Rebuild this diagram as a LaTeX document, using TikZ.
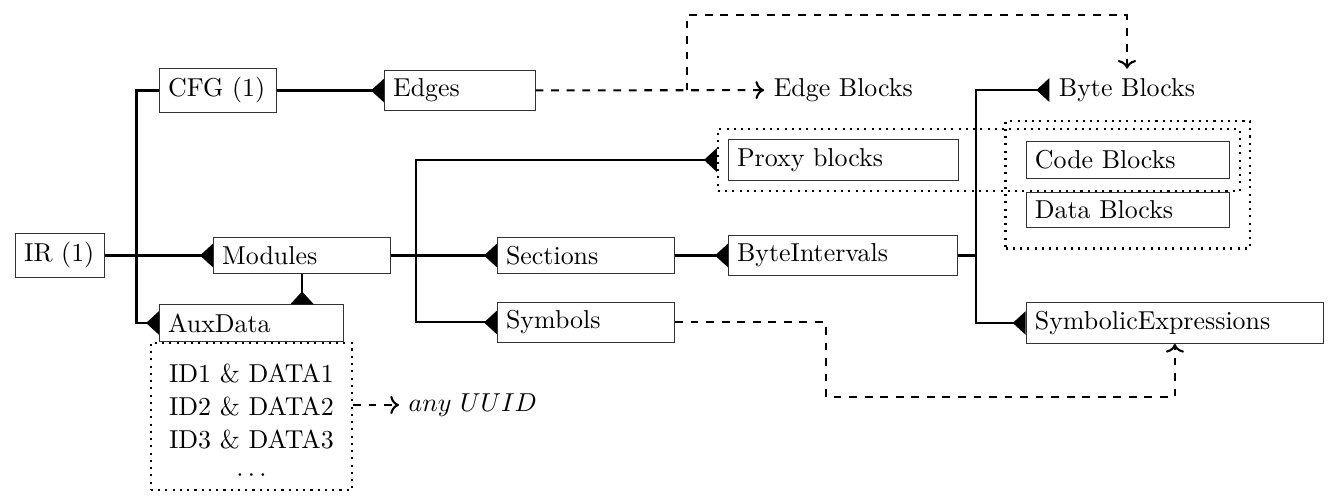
\documentclass[tikz,border=0pt]{standalone}
\usetikzlibrary{arrows.meta,positioning,fit}
\begin{document}
\begin{tikzpicture}[thick,
    box/.style = {draw=black!80, thin, anchor=west, align=left},
    grp/.style = {draw, dotted, thick},
    many/.style = {-{Triangle[reversed,length=5pt,width=9pt]}},
    ref/.style = {dashed, -{To}}]
  \useasboundingbox (0,0) rectangle (18.09,6.758);
  % classes
  \node[box, text width=0.97cm] (ir) at (0.204,3.291) {IR (1)};
  \node[box, text width=1.35cm] (cfg) at (2.158,5.530) {CFG (1)};
  \node[box, text width=1.81cm] (edges) at (5.211,5.530) {Edges};
  \node[box, text width=2.17cm] (mod) at (2.890,3.291) {Modules};
  \node[box, text width=2.26cm] (aux) at (2.158,2.375) {AuxData};
  \node[box, text width=2.17cm] (sec) at (6.744,3.291) {Sections};
  \node[box, text width=2.17cm] (sym) at (6.744,2.382) {Symbols};
  \node[box, text width=2.87cm] (bi) at (9.879,3.291) {ByteIntervals};
  \node[box, text width=2.89cm] (proxy) at (9.879,4.587) {Proxy blocks};
  \node[box, text width=2.52cm] (code) at (13.92,4.587) {Code Blocks};
  \node[box, text width=2.52cm] (data) at (13.92,3.908) {Data Blocks};
  \node[box, text width=3.80cm] (symx) at (13.92,2.375) {SymbolicExpressions};
  % plain labels
  \node[anchor=west] (eblk) at (10.37,5.536) {Edge Blocks};
  \node[anchor=west] (bblk) at (14.24,5.536) {Byte Blocks};
  \node[anchor=west] (uuid) at (5.415,1.262) {$any\ UUID$};
  % groups
  \node[grp, below=0pt of aux, minimum width=2.728cm, minimum height=1.968cm,
        align=center] (list) {\rule{0pt}{12pt}ID1 \& DATA1\\[0.8pt] ID2 \& DATA2\\[0.8pt]
        ID3 \& DATA3\\[0.8pt] $\cdots$};
  \node[grp, fit=(proxy)(code), inner sep=3.9pt] (pgrp) {};
  \node[grp, fit=(code)(data), inner sep=7.8pt] (bgrp) {};
  % IR
  \coordinate[right=0.43cm of ir.east] (j1);
  \draw[many] (ir) -- (mod);
  \draw (j1) |- (cfg);
  \draw[many] (j1) |- (aux);
  \draw[many] (cfg) -- (edges);
  \draw[many] (mod.south) -- (mod.south |- aux.north);
  % Modules
  \coordinate[right=0.34cm of mod.east] (j2);
  \draw[many] (mod) -- (sec);
  \draw[many] (j2) |- (sym);
  \draw[many] (j2) |- (pgrp);
  \draw[many] (sec) -- (bi);
  % ByteIntervals
  \coordinate[right=0.244cm of bi.east] (j3);
  \draw (bi) -- (j3);
  \draw[many] (j3) |- (bblk);
  \draw[many] (j3) |- (symx);
  % references
  \draw[ref] (edges) -- (eblk);
  \coordinate[right=2.05cm of edges.east] (j4);
  \coordinate[above=1.02cm of j4] (up);
  \draw[ref] (j4) -- (up) -| (bblk);
  \draw[ref] (list.east |- uuid) -- (uuid);
  \coordinate (low) at (11.21,1.37);
  \draw[ref] (sym) -- (sym -| low) -- (low) -| (symx);
\end{tikzpicture}
\end{document}
